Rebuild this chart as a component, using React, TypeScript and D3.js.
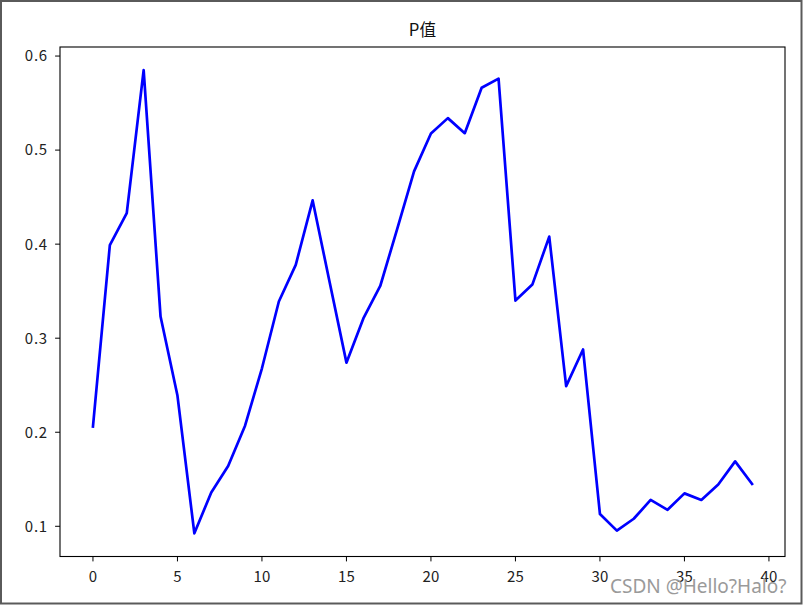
import React from "react";
import * as d3 from "d3";

const title = "P值";
const watermark = "CSDN @Hello?Halo?";
const pValues = [
  0.206, 0.399, 0.433, 0.585, 0.323, 0.239, 0.0925, 0.136, 0.164, 0.207,
  0.268, 0.339, 0.378, 0.4465, 0.36, 0.274, 0.321, 0.3555, 0.416, 0.4774,
  0.5176, 0.534, 0.518, 0.5663, 0.576, 0.34, 0.357, 0.408, 0.249, 0.288,
  0.113, 0.0954, 0.108, 0.128, 0.1175, 0.135, 0.128, 0.1445, 0.169, 0.145,
];
const xTicks = [0, 5, 10, 15, 20, 25, 30, 35, 40];
const yTicks = [0.1, 0.2, 0.3, 0.4, 0.5, 0.6];

const W = 803;
const H = 605;
const box = { left: 60, right: 785, top: 47, bottom: 556.5 };
const font = "'Noto Sans CJK SC', 'Noto Sans', sans-serif";

export default function App() {
  const n = pValues.length;
  const xm = (n - 1) * 0.05;
  const x = d3.scaleLinear().domain([-xm, n - 1 + xm]).range([box.left, box.right]);
  const [mn, mx] = d3.extent(pValues) as [number, number];
  const ym = (mx - mn) * 0.05;
  const y = d3.scaleLinear().domain([mn - ym, mx + ym]).range([box.bottom, box.top]);
  const line = d3
    .line<number>()
    .x((_, i) => x(i))
    .y((d) => y(d));

  return (
    <svg
      width={W}
      height={H}
      style={{ position: "fixed", left: 0, top: 0, background: "#fff" }}
      fontFamily={font}
    >
      <rect x={0} y={0} width={W} height={H} fill="#fff" />
      <rect x={1} y={1} width={W - 2.5} height={H - 2.5} fill="none" stroke="#5a5a5a" strokeWidth={2} />
      <text x={(box.left + box.right) / 2} y={36} textAnchor="middle" fontSize={16.7} fill="#111">
        {title}
      </text>
      <g>
        {yTicks.map((t) => (
          <g key={"y" + t}>
            <line x1={box.left - 4.9} x2={box.left} y1={y(t)} y2={y(t)} stroke="#000" strokeWidth={1} />
            <text x={box.left - 12} y={y(t)} dy="0.36em" textAnchor="end" fontSize={15} fill="#222" letterSpacing={0.8}>
              {t.toFixed(1)}
            </text>
          </g>
        ))}
        {xTicks.map((t) => (
          <g key={"x" + t}>
            <line x1={x(t)} x2={x(t)} y1={box.bottom} y2={box.bottom + 4.9} stroke="#000" strokeWidth={1} />
            <text x={x(t)} y={box.bottom + 25.5} textAnchor="middle" fontSize={15} fill="#222">
              {t}
            </text>
          </g>
        ))}
      </g>
      <path d={line(pValues) ?? ""} fill="none" stroke="#0000ff" strokeWidth={2.7} strokeLinejoin="round" strokeLinecap="square" />
      <rect
        x={box.left}
        y={box.top}
        width={box.right - box.left}
        height={box.bottom - box.top}
        fill="none"
        stroke="#000"
        strokeWidth={1.1}
      />
      <text x={610} y={593} fontSize={19} fill="#9a9a9a" fontFamily="'Noto Sans', sans-serif">
        {watermark}
      </text>
    </svg>
  );
}
